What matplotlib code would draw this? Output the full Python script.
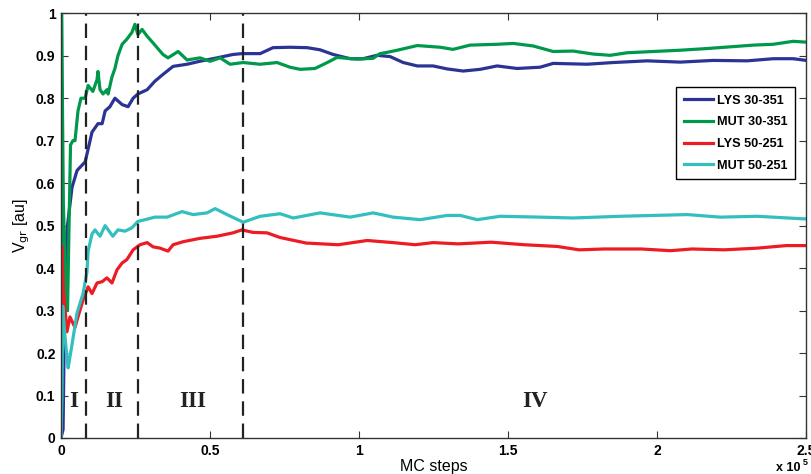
import numpy as np
import matplotlib
matplotlib.use("Agg")
import matplotlib.pyplot as plt
from matplotlib.ticker import FuncFormatter

# MC steps in units of 1e5
lys30_x = [0, 0.007, 0.012, 0.020, 0.037, 0.054, 0.081, 0.091, 0.104, 0.124, 0.138, 0.148,
           0.164, 0.181, 0.205, 0.225, 0.242, 0.258, 0.289, 0.315, 0.342, 0.376, 0.423, 0.466,
           0.523, 0.577, 0.607, 0.668, 0.711, 0.768, 0.826, 0.869, 0.913, 0.970, 1.013, 1.060,
           1.104, 1.148, 1.195, 1.248, 1.295, 1.349, 1.406, 1.463, 1.530, 1.607, 1.651, 1.765,
           1.852, 1.966, 2.077, 2.188, 2.302, 2.389, 2.456, 2.50]
lys30_y = [0.0, 0.02, 0.30, 0.49, 0.59, 0.63, 0.65, 0.68, 0.72, 0.74, 0.74, 0.77,
           0.78, 0.80, 0.785, 0.78, 0.80, 0.81, 0.82, 0.84, 0.856, 0.875, 0.88, 0.887,
           0.895, 0.903, 0.905, 0.905, 0.919, 0.920, 0.919, 0.914, 0.903, 0.893, 0.893, 0.901,
           0.898, 0.884, 0.876, 0.876, 0.869, 0.864, 0.868, 0.876, 0.870, 0.873, 0.882, 0.880,
           0.884, 0.888, 0.885, 0.889, 0.888, 0.893, 0.893, 0.889]

mut30_x = [0, 0.002, 0.008, 0.018, 0.022, 0.027, 0.032, 0.040, 0.047, 0.057, 0.067, 0.081,
           0.091, 0.107, 0.121, 0.124, 0.131, 0.141, 0.154, 0.158, 0.171, 0.181, 0.191, 0.205,
           0.221, 0.238, 0.248, 0.258, 0.272, 0.289, 0.309, 0.342, 0.359, 0.393, 0.423, 0.466,
           0.500, 0.534, 0.567, 0.611, 0.668, 0.725, 0.768, 0.802, 0.852, 0.893, 0.926, 0.993,
           1.047, 1.070, 1.094, 1.128, 1.195, 1.272, 1.315, 1.372, 1.463, 1.517, 1.584, 1.651,
           1.718, 1.785, 1.842, 1.899, 1.987, 2.077, 2.168, 2.245, 2.322, 2.389, 2.456, 2.50]
mut30_y = [0.0, 1.0, 0.55, 0.30, 0.30, 0.50, 0.69, 0.70, 0.70, 0.77, 0.80, 0.80,
           0.83, 0.816, 0.844, 0.863, 0.82, 0.81, 0.82, 0.81, 0.85, 0.87, 0.90, 0.927,
           0.939, 0.955, 0.974, 0.95, 0.962, 0.946, 0.93, 0.903, 0.895, 0.91, 0.89, 0.895,
           0.887, 0.895, 0.88, 0.884, 0.88, 0.884, 0.873, 0.868, 0.870, 0.884, 0.896, 0.892,
           0.894, 0.905, 0.908, 0.913, 0.924, 0.920, 0.915, 0.925, 0.927, 0.929, 0.923, 0.910,
           0.911, 0.904, 0.901, 0.907, 0.910, 0.913, 0.917, 0.921, 0.925, 0.927, 0.934, 0.932]

lys50_x = [0, 0.003, 0.008, 0.020, 0.030, 0.047, 0.057, 0.074, 0.091, 0.104, 0.121, 0.138,
           0.154, 0.171, 0.188, 0.205, 0.221, 0.242, 0.265, 0.289, 0.309, 0.332, 0.359, 0.376,
           0.409, 0.466, 0.523, 0.577, 0.607, 0.644, 0.691, 0.735, 0.822, 0.930, 1.027, 1.114,
           1.188, 1.248, 1.332, 1.443, 1.554, 1.664, 1.738, 1.822, 1.946, 2.044, 2.117, 2.225,
           2.336, 2.433, 2.50]
lys50_y = [0.0, 0.45, 0.35, 0.25, 0.285, 0.26, 0.285, 0.325, 0.356, 0.34, 0.365, 0.368,
           0.377, 0.365, 0.396, 0.412, 0.42, 0.443, 0.455, 0.46, 0.45, 0.447, 0.44, 0.455,
           0.462, 0.47, 0.475, 0.483, 0.49, 0.484, 0.483, 0.472, 0.459, 0.455, 0.465, 0.46,
           0.455, 0.46, 0.457, 0.461, 0.455, 0.451, 0.443, 0.445, 0.445, 0.441, 0.445, 0.443,
           0.447, 0.453, 0.453]

mut50_x = [0, 0.003, 0.006, 0.012, 0.020, 0.024, 0.037, 0.054, 0.074, 0.087, 0.091, 0.104,
           0.114, 0.131, 0.148, 0.174, 0.191, 0.215, 0.238, 0.258, 0.282, 0.315, 0.356, 0.406,
           0.443, 0.490, 0.517, 0.557, 0.611, 0.668, 0.735, 0.779, 0.869, 0.970, 1.047, 1.114,
           1.205, 1.295, 1.339, 1.396, 1.473, 1.607, 1.718, 1.876, 2.101, 2.211, 2.336, 2.490,
           2.50]
mut50_y = [0.0, 0.09, 0.31, 0.25, 0.19, 0.165, 0.22, 0.295, 0.34, 0.39, 0.44, 0.48,
           0.49, 0.475, 0.50, 0.475, 0.49, 0.487, 0.495, 0.51, 0.514, 0.52, 0.52, 0.533,
           0.526, 0.53, 0.54, 0.526, 0.508, 0.522, 0.528, 0.518, 0.530, 0.52, 0.530, 0.52,
           0.514, 0.524, 0.524, 0.514, 0.522, 0.52, 0.518, 0.522, 0.526, 0.52, 0.522, 0.516,
           0.516]

series = [
    ("LYS 30-351", lys30_x, lys30_y, "#2b3394"),
    ("MUT 30-351", mut30_x, mut30_y, "#00994c"),
    ("LYS 50-251", lys50_x, lys50_y, "#ed1c24"),
    ("MUT 50-251", mut50_x, mut50_y, "#33bfbf"),
]

phase_bounds = [0.085, 0.26, 0.61]
phase_labels = ["I", "II", "III", "IV"]
phase_pos = [0.044, 0.178, 0.443, 1.59]

plt.rcParams['font.family'] = ['Liberation Sans', 'DejaVu Sans']

fig = plt.figure(figsize=(8.11, 4.74), dpi=100)
ax = fig.add_axes([0.0752, 0.076, 0.919, 0.896])

for name, xs, ys, col in series:
    ax.plot(np.array(xs) * 1e5, ys, color=col, lw=2.3, label=name, solid_joinstyle='round')

for xb in phase_bounds:
    ax.axvline(xb * 1e5, color="#222222", lw=1.6, dashes=(6.5, 3.5))

for lab, xp in zip(phase_labels, phase_pos):
    ax.text(xp * 1e5, 0.087, lab, family=['Liberation Serif', 'DejaVu Serif'],
            fontweight='bold', fontsize=16.5, color="#222222", ha='center', va='center')

ax.set_xlim(0, 2.5e5)
ax.set_ylim(0, 1)
ax.set_xticks(np.arange(0, 2.51e5, 0.5e5))
ax.set_yticks(np.arange(0, 1.01, 0.1))
ax.xaxis.set_major_formatter(FuncFormatter(lambda v, p: f"{v / 1e5:g}"))
ax.yaxis.set_major_formatter(FuncFormatter(lambda v, p: f"{v:g}"))
ax.tick_params(direction='in', top=True, right=True, length=5, width=0.8,
               color="#333333", labelsize=10, pad=4)
for t in ax.get_xticklabels() + ax.get_yticklabels():
    t.set_fontweight('bold')
for s in ax.spines.values():
    s.set_color("#333333")
    s.set_linewidth(1.0)

ax.set_xlabel("MC steps", fontsize=11.5, labelpad=1)
ax.set_ylabel(r"V$_{\rm gr}$ [au]", fontsize=11.5, labelpad=3)

fig.text(0.957, 0.006, "x 10", fontsize=9, fontweight='bold', ha='left', va='baseline')
fig.text(0.990, 0.019, "5", fontsize=6.5, fontweight='bold', ha='left', va='baseline')

leg = ax.legend(loc='upper right', bbox_to_anchor=(0.985, 0.826), borderaxespad=0,
                prop={'weight': 'bold', 'size': 9.2}, handlelength=2.3, handletextpad=0.3,
                labelspacing=0.75, borderpad=0.6, fancybox=False, framealpha=1,
                edgecolor='black')
leg.get_frame().set_linewidth(1.0)

fig.savefig("out.png", dpi=100)
